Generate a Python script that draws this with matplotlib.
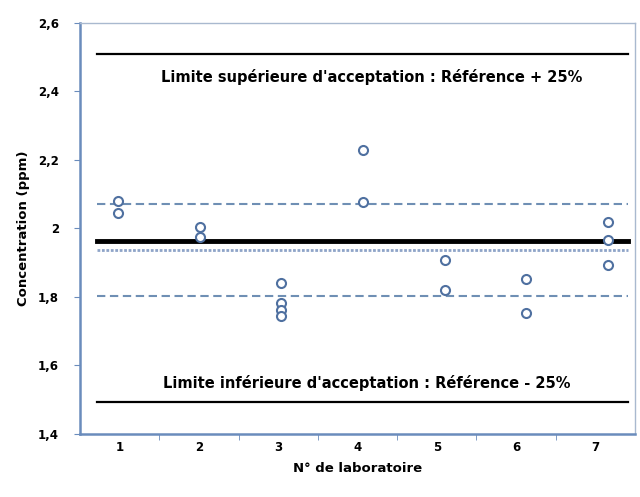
import numpy as np
import matplotlib
matplotlib.use('Agg')
import matplotlib.pyplot as plt
import matplotlib.transforms as mtransforms

plt.rcParams['font.family'] = ['DejaVu Sans']

# data
labs = [1, 2, 3, 4, 5, 6, 7]
lab_labels = ['1', '2', '3', '4', '5', '6', '7']
results = [
    [2.079, 2.044],
    [2.004, 1.975],
    [1.840, 1.781, 1.761, 1.743],
    [2.229, 2.077],
    [1.909, 1.821],
    [1.851, 1.753],
    [2.018, 1.967, 1.892],
]
reference = 1.964
mean_value = 1.936
band_high = 2.070
band_low = 1.804
limit_high = 2.508
limit_low = 1.494
yticks = [1.4, 1.6, 1.8, 2.0, 2.2, 2.4, 2.6]
ytick_labels = ['1,4', '1,6', '1,8', '2', '2,2', '2,4', '2,6']

blue = '#4f70a0'
spine_blue = '#6a8cbc'

fig = plt.figure(figsize=(6.4, 4.97), dpi=100)
ax = fig.add_axes([0.125, 0.127, 0.867, 0.827])

# points
for lab, vals in zip(labs, results):
    ax.plot([lab] * len(vals), vals, linestyle='none', marker='o', ms=6.5,
            mfc='white', mec=blue, mew=1.5, zorder=5)

# horizontal lines
xa, xb = 0.03, 0.987
ax.axhline(limit_high, xmin=xa, xmax=xb, color='black', lw=1.6, zorder=3)
ax.axhline(limit_low, xmin=xa, xmax=xb, color='black', lw=1.6, zorder=3)
ax.axhline(reference, xmin=xa, xmax=xb, color='black', lw=3.5, zorder=3)
ax.axhline(mean_value, xmin=xa, xmax=xb, color='#8ea4c8', lw=2.0,
           linestyle=(0, (1, 0.6)), zorder=3)
ax.axhline(band_high, xmin=xa, xmax=xb, color='#6f8fb4', lw=1.5,
           linestyle=(0, (4, 2.2)), zorder=3)
ax.axhline(band_low, xmin=xa, xmax=xb, color='#6f8fb4', lw=1.5,
           linestyle=(0, (4, 2.2)), zorder=3)

trans = mtransforms.blended_transform_factory(ax.transAxes, ax.transData)
ax.text(0.526, 2.442, "Limite supérieure d'acceptation : Référence + 25%",
        transform=trans, ha='center', va='center', fontsize=10.5, fontweight='bold')
ax.text(0.516, 1.549, "Limite inférieure d'acceptation : Référence - 25%",
        transform=trans, ha='center', va='center', fontsize=10.5, fontweight='bold')

ax.set_xlim(0.535, 7.33)
ax.set_ylim(1.4, 2.6)
ax.set_yticks(yticks)
ax.set_yticklabels(ytick_labels, fontsize=8.5, fontweight='bold')
ax.set_xticks([])
ax.tick_params(axis='y', direction='out', length=4, color=spine_blue, pad=11)
ax.set_ylabel('Concentration (ppm)', fontsize=9.5, fontweight='bold', labelpad=6)

for side in ['left', 'bottom']:
    ax.spines[side].set_color(spine_blue)
    ax.spines[side].set_linewidth(1.8)
for side in ['top', 'right']:
    ax.spines[side].set_color('#a9b9cf')
    ax.spines[side].set_linewidth(1.0)

# category axis for the lab numbers
ax2 = ax.twiny()
ax2.set_xlim(0.5, 7.5)
ax2.xaxis.set_ticks_position('bottom')
ax2.xaxis.set_label_position('bottom')
ax2.set_xticks(labs)
ax2.set_xticklabels(lab_labels, fontsize=8.5, fontweight='bold')
ax2.set_xticks(np.arange(1.5, 7.5, 1.0), minor=True)
ax2.tick_params(axis='x', which='major', length=0, pad=5)
ax2.tick_params(axis='x', which='minor', length=4, color=spine_blue, direction='out')
ax2.set_xlabel('N° de laboratoire', fontsize=9.5, fontweight='bold', labelpad=6)
for s in ax2.spines.values():
    s.set_visible(False)

fig.savefig('out.png', dpi=100)
